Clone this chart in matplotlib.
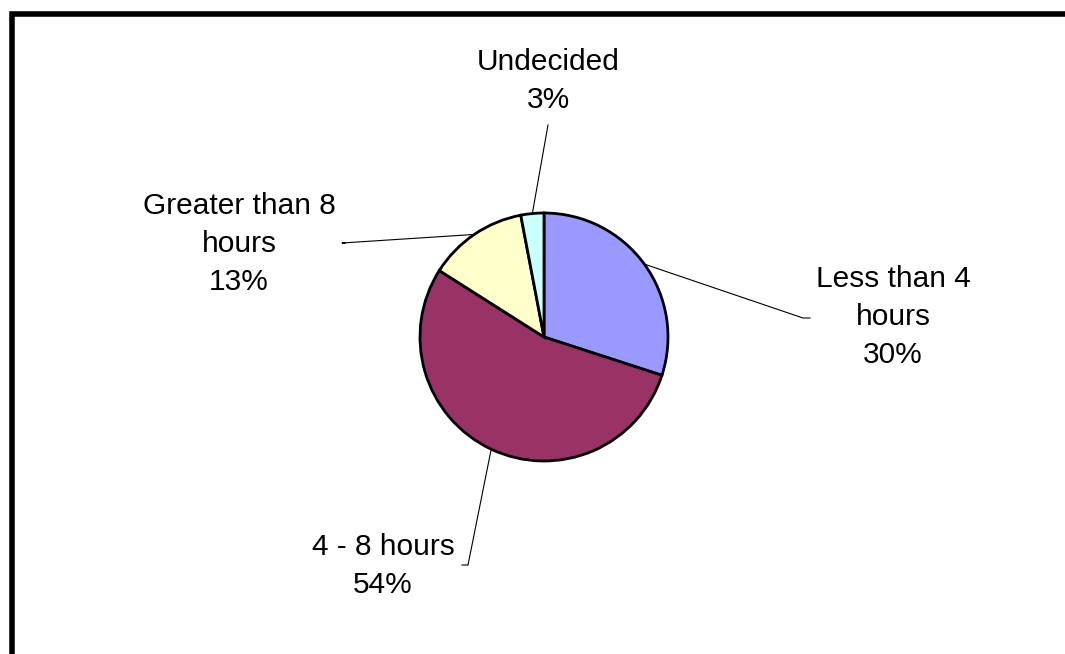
import numpy as np
import matplotlib
matplotlib.use('Agg')
import matplotlib.pyplot as plt
from matplotlib.patches import Rectangle

# %% Data

categories = ['Less than 4\nhours', '4 - 8 hours', 'Greater than 8\nhours', 'Undecided']
shares = [30, 54, 13, 3]
colors = ['#9999FF', '#993366', '#FFFFCC', '#CCFFFF']

# label layout in pixels (y from top): text centre and leader-line end
label_xy = [(893, 317), (383, 566), (239, 244), (548, 81)]
leader_end = [(803, 318), (468, 565), (342, 243), (548, 125)]
leader_tick = [7, -6, 3, 0]

W, H = 1065, 654

plt.rcParams['font.family'] = ['Liberation Sans', 'DejaVu Sans']

fig = plt.figure(figsize=(W / 100, H / 100), dpi=100, facecolor='w')
ax = fig.add_axes([0, 0, 1, 1])

cx, cy, r = 544, H - 337, 124

wedges, _ = ax.pie(shares, colors=colors, startangle=90, counterclock=False,
                   center=(cx, cy), radius=r, frame=True,
                   wedgeprops=dict(edgecolor='black', linewidth=2.0))
ax.set_xlim(0, W)
ax.set_ylim(0, H)
ax.set_aspect('equal')
ax.axis('off')

# Labels with leader lines from the middle of each wedge
for w, lab, val, (tx, ty), (ex, ey), tk in zip(wedges, categories, shares,
                                             label_xy, leader_end, leader_tick):
    mid = np.deg2rad((w.theta1 + w.theta2) / 2)
    sx, sy = cx + r * np.cos(mid), cy + r * np.sin(mid)
    ax.plot([sx, ex, ex + tk], [sy, H - ey, H - ey], color='black', lw=0.8)
    ax.text(tx, H - ty, '{}\n{}%'.format(lab, val), ha='center', va='center',
            fontsize=21.5, linespacing=1.45, color='black')

# Chart area border (runs off the right and bottom of the picture)
fig.patches.append(Rectangle((12 / W, -0.1), 1.2, 1 - 14.5 / H + 0.1,
                             transform=fig.transFigure, fill=False,
                             edgecolor='black', linewidth=4.0))

fig.savefig('out.png', dpi=100)
